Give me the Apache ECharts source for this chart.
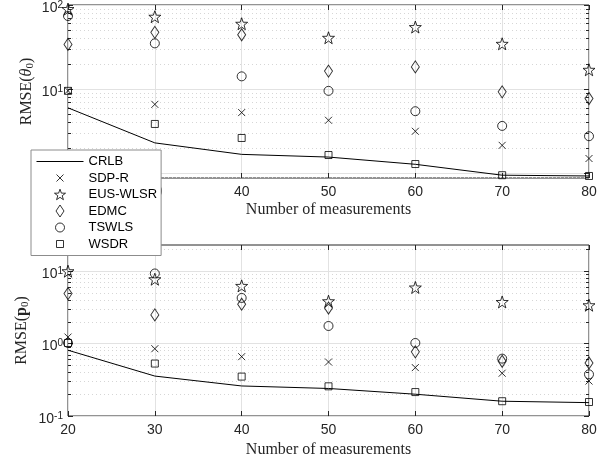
<!DOCTYPE html>
<html>
<head>
<meta charset="utf-8">
<script src="https://cdn.jsdelivr.net/npm/echarts@6/dist/echarts.min.js"></script>
<style>
  html, body { margin: 0; padding: 0; background: #fff; }
  #chart { width: 610px; height: 463px; }
</style>
</head>
<body>
<div id="chart"></div>
<script>
// number of measurements
const xValues = [20, 30, 40, 50, 60, 70, 80];

// RMSE(theta0)
const thetaCRLB  = [6.0, 2.3, 1.68, 1.56, 1.28, 0.95, 0.93];
const thetaSDPR  = [9.6, 6.6, 5.27, 4.27, 3.16, 2.15, 1.5];
const thetaEUS   = [89.6, 72.6, 59.9, 40.8, 54.7, 34.6, 17.0];
const thetaEDMC  = [34, 47.3, 44.3, 16.4, 18.4, 9.3, 7.74];
const thetaTSWLS = [74, 35, 14.2, 9.55, 5.47, 3.66, 2.76];
const thetaWSDR  = [9.55, 3.86, 2.63, 1.65, 1.29, 0.95, 0.93];

// RMSE(p0)
const posCRLB  = [0.81, 0.356, 0.26, 0.24, 0.20, 0.16, 0.153];
const posSDPR  = [1.23, 0.85, 0.66, 0.557, 0.466, 0.39, 0.304];
const posEUS   = [10.0, 7.75, 6.27, 3.85, 5.96, 3.76, 3.39];
const posEDMC  = [4.9, 2.49, 3.5, 3.1, 0.77, 0.57, 0.54];
const posTSWLS = [1.02, 9.3, 4.27, 1.75, 1.02, 0.62, 0.376];
const posWSDR  = [1.02, 0.53, 0.35, 0.257, 0.214, 0.16, 0.156];

const legendNames = ['CRLB', 'SDP-R', 'EUS-WLSR', 'EDMC', 'TSWLS', 'WSDR'];
const thetaMajor = [1, 10, 100];
const posMajor = [0.1, 1, 10];

function minorTicks(lo, hi) {
  const out = [];
  for (let d = lo; d < hi; d++) {
    for (let k = 2; k <= 9; k++) out.push(k * Math.pow(10, d));
  }
  return out;
}

function starPoints(cx, cy, R) {
  const pts = [];
  for (let i = 0; i < 10; i++) {
    const a = (-90 + i * 36) * Math.PI / 180;
    const r = i % 2 ? 0.4 * R : R;
    pts.push((cx + r * Math.cos(a)).toFixed(2) + ',' + (cy + r * Math.sin(a)).toFixed(2));
  }
  return 'M' + pts.join('L') + 'Z';
}
const starPath = 'path://' + starPoints(10, 10, 10);
const crossPath = 'path://M0,0L10,10M10,0L0,10';

// legend icons: 47x14 box so nothing gets stretched
const box = 'M0,0M47,14';
const legendIcons = [
  'path://' + box + 'M0,7L47,7',
  'path://' + box + 'M20,3.5L27,10.5M27,3.5L20,10.5',
  'path://' + box + starPoints(23.5, 7.5, 5.8),
  'path://' + box + 'M23.5,1L27.5,7L23.5,13L19.5,7Z',
  'path://' + box + 'M28,7A4.5,4.5,0,1,1,19,7A4.5,4.5,0,1,1,28,7Z',
  'path://' + box + 'M20,3.5L27,3.5L27,10.5L20,10.5Z'
];

const ink = '#262626';
const sansFont = 'Liberation Sans';
const serifFont = 'Liberation Serif';

function pairs(ys) { return xValues.map((x, i) => [x, ys[i]]); }

const markerStyle = { color: 'rgba(0,0,0,0)', borderColor: '#000', borderWidth: 1 };

function seriesFor(xi, yi, sets) {
  const syms = [
    [crossPath, 7],
    [starPath, 12],
    ['diamond', [8, 12]],
    ['circle', 9],
    ['rect', 7]
  ];
  const out = [{
    name: 'CRLB', type: 'line', xAxisIndex: xi, yAxisIndex: yi,
    data: pairs(sets[0]), symbol: 'none', silent: true,
    lineStyle: { color: '#000', width: 1 }, itemStyle: { color: '#000' }
  }];
  for (let i = 1; i < sets.length; i++) {
    out.push({
      name: legendNames[i], type: 'scatter', xAxisIndex: xi, yAxisIndex: yi,
      data: pairs(sets[i]), symbol: syms[i - 1][0], symbolSize: syms[i - 1][1],
      silent: true, itemStyle: markerStyle
    });
  }
  return out;
}

function powLabel(v) {
  const e = Math.round(Math.log10(v));
  return '{b|10}{s|' + e + '}';
}

const labelRich = {
  b: { fontFamily: sansFont, fontSize: 14, color: ink, padding: [6, 0, 0, 0] },
  s: { fontFamily: sansFont, fontSize: 10, color: ink, verticalAlign: 'top', padding: [5, 0, 0, 0] }
};

function yAxes(grid, min, max, major, minor, nameRich, gap) {
  const base = { type: 'log', gridIndex: grid, min: min, max: max, axisLine: { show: false } };
  return [
    Object.assign({}, base, {
      position: 'left',
      name: nameRich, nameLocation: 'middle', nameGap: gap, nameRotate: 90,
      nameMoveOverlap: false,
      nameTextStyle: {
        rich: {
          n: { fontFamily: serifFont, fontSize: 16, color: ink },
          i: { fontFamily: serifFont, fontSize: 16, fontStyle: 'italic', color: ink },
          p: { fontFamily: serifFont, fontSize: 16, fontWeight: 'bold', color: ink },
          sub: { fontFamily: serifFont, fontSize: 11, color: ink, padding: [8, 0, 0, 0] }
        }
      },
      axisTick: { inside: true, length: 5, lineStyle: { color: ink }, customValues: major },
      axisLabel: { customValues: major, formatter: powLabel, rich: labelRich, margin: 5 },
      splitLine: { show: true, lineStyle: { color: '#e2e2e2', width: 1 } }
    }),
    Object.assign({}, base, {
      position: 'left',
      axisTick: { inside: true, length: 3, lineStyle: { color: ink }, customValues: minor },
      axisLabel: { show: false },
      splitLine: { show: true, lineStyle: { color: '#d6d6d6', width: 1, type: [1, 3] } }
    }),
    Object.assign({}, base, {
      position: 'right',
      axisTick: { inside: true, length: 5, lineStyle: { color: ink }, customValues: major },
      axisLabel: { show: false }, splitLine: { show: false }
    }),
    Object.assign({}, base, {
      position: 'right',
      axisTick: { inside: true, length: 3, lineStyle: { color: ink }, customValues: minor },
      axisLabel: { show: false }, splitLine: { show: false }
    })
  ];
}

function xAxes(grid, gap) {
  const base = { type: 'value', gridIndex: grid, min: 20, max: 80, interval: 10, axisLine: { show: false } };
  return [
    Object.assign({}, base, {
      position: 'bottom',
      name: 'Number of measurements', nameLocation: 'middle', nameGap: gap,
      nameMoveOverlap: false,
      nameTextStyle: { fontFamily: serifFont, fontSize: 16, color: ink },
      axisTick: { inside: true, length: 5, lineStyle: { color: ink } },
      axisLabel: { fontFamily: sansFont, fontSize: 14, color: ink, margin: 7 },
      splitLine: { show: true, lineStyle: { color: '#e2e2e2', width: 1 } }
    }),
    Object.assign({}, base, {
      position: 'top',
      axisTick: { inside: true, length: 5, lineStyle: { color: ink } },
      axisLabel: { show: false }, splitLine: { show: false }
    })
  ];
}

const chart = echarts.init(document.getElementById('chart'));
chart.setOption({
  animation: false,
  backgroundColor: '#fff',
  grid: [
    { left: 68, right: 21, top: 5, height: 173, show: true, borderColor: ink, borderWidth: 1, backgroundColor: 'transparent' },
    { left: 68, right: 21, top: 245, height: 171, show: true, borderColor: ink, borderWidth: 1, backgroundColor: 'transparent' }
  ],
  xAxis: xAxes(0, 24).concat(xAxes(1, 26)),
  yAxis: yAxes(0, 0.88, 100, thetaMajor, minorTicks(-1, 2).filter(v => v > 0.88), '{n|RMSE(}{i|θ}{sub|0}{n|)}', 32)
    .concat(yAxes(1, 0.1, 23, posMajor, minorTicks(-1, 2).filter(v => v < 23), '{n|RMSE(}{p|p}{sub|0}{n|)}', 37)),
  legend: {
    data: legendNames.map((n, i) => ({
      name: n, icon: legendIcons[i],
      itemStyle: { color: 'rgba(0,0,0,0)', borderColor: '#000', borderWidth: 1 }
    })),
    orient: 'vertical',
    left: 31, top: 150,
    padding: [4, 4, 4, 5],
    itemWidth: 47, itemHeight: 14, itemGap: 1.5,
    backgroundColor: '#fff',
    borderColor: '#8c8c8c', borderWidth: 1,
    selectedMode: false,
    textStyle: { fontFamily: sansFont, fontSize: 13, color: '#000', lineHeight: 14 }
  },
  series: seriesFor(0, 0, [thetaCRLB, thetaSDPR, thetaEUS, thetaEDMC, thetaTSWLS, thetaWSDR])
    .concat(seriesFor(2, 4, [posCRLB, posSDPR, posEUS, posEDMC, posTSWLS, posWSDR]))
});
</script>
</body>
</html>
